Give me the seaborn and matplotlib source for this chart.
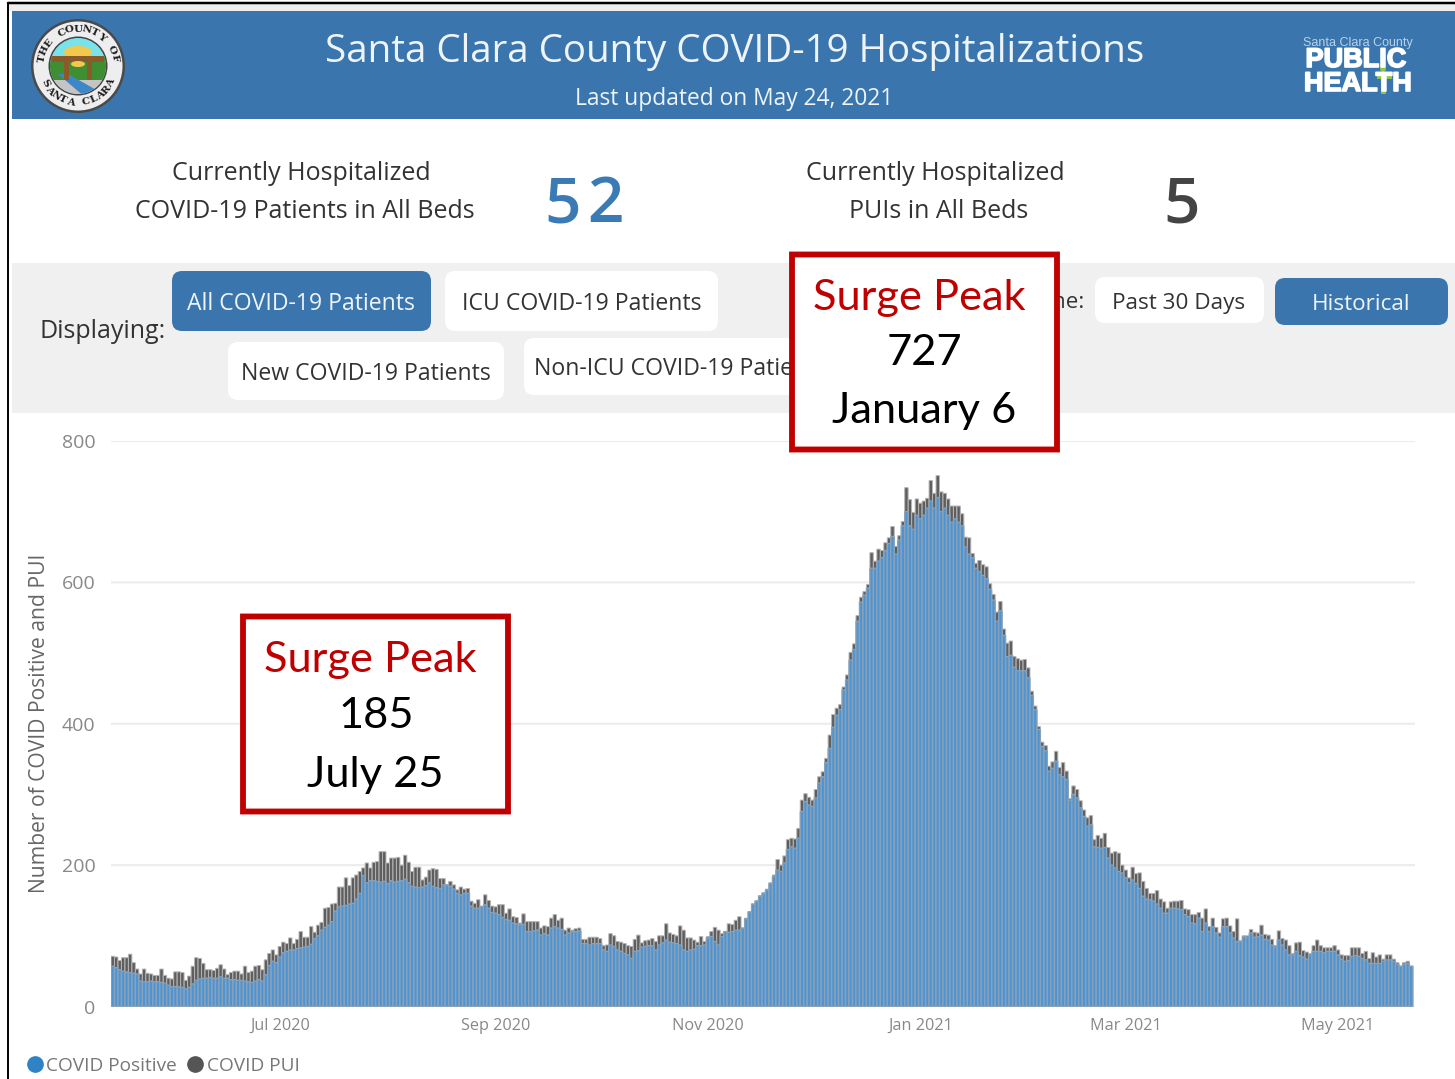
import numpy as np
import pandas as pd
import matplotlib
matplotlib.use("Agg")
import matplotlib.pyplot as plt
import matplotlib.patheffects as pe
import seaborn as sns
from matplotlib.lines import Line2D
from matplotlib.patches import Circle, Ellipse, FancyBboxPatch, Polygon, Rectangle

# daily values, total = positive + PUI
total_beds = [
    71, 70, 65, 69, 69, 74, 62, 53, 46, 53, 47, 46, 44, 44, 53, 44, 40, 39, 49, 49,
    48, 37, 43, 57, 69, 68, 61, 52, 52, 51, 54, 59, 53, 45, 48, 50, 50, 46, 57, 48,
    50, 57, 58, 52, 66, 75, 80, 73, 85, 91, 89, 97, 89, 95, 106, 98, 98, 113, 105, 115,
    119, 139, 140, 145, 146, 169, 169, 182, 171, 182, 186, 191, 196, 203, 196, 204, 205, 219, 219, 203,
    210, 210, 211, 200, 214, 204, 191, 197, 197, 179, 183, 193, 195, 194,
    181, 181, 172, 177, 172, 165, 169, 166, 167, 149, 146, 151, 142, 158, 150, 142, 141, 144, 144, 132,
    138, 127, 126, 118, 131, 120, 120, 120, 120, 111, 114, 113, 125, 130, 122, 125, 108, 111, 108, 110,
    111, 95, 95, 98, 98, 98, 96, 86, 87, 103, 100, 92, 91, 89, 86, 85, 95, 101, 90, 93,
    94, 96, 92, 100, 100, 117, 104, 102, 100, 114, 108, 97, 97, 94, 91, 99, 92, 99, 106, 112,
    108, 103, 106, 117, 116, 122, 127, 111, 125, 134, 145, 150, 157, 161, 166, 175, 186, 208, 200, 213,
    236, 238, 237, 252, 292, 301, 296, 292, 307, 325, 332,
    351, 384, 413, 422, 427, 452, 469, 501, 513, 553, 579, 587, 597, 642, 630, 647, 645, 656, 663, 679,
    651, 666, 686, 734, 717, 699, 718, 712, 715, 719, 744, 726, 751, 728, 726, 718, 708, 708, 708, 697,
    664, 663, 641, 627, 631, 625, 622, 598, 583, 558, 573, 534, 514, 517, 495, 492, 490, 491, 479, 446,
    425, 396, 374, 369,
    340, 346, 361, 338, 345, 333, 294, 312, 307, 291, 278, 267, 270, 236, 242, 238, 245, 225, 217, 219,
    217, 200, 193, 182, 197, 188, 189, 177, 167, 160, 160, 164, 152, 148, 139, 148, 149, 149, 150, 138,
    137, 130, 130, 133, 125, 138, 113, 125, 112, 104, 124, 125, 114, 106, 124, 93, 100, 100, 109, 105,
    104, 115, 102, 101, 95, 86, 107, 96, 94, 86, 75, 90, 91, 79, 77, 75, 86, 94, 86, 83,
    83, 83, 86, 80, 73, 72, 72, 83, 83, 83, 75, 78, 68, 76, 70, 73, 67, 73, 73, 67,
    62, 57, 62, 64, 57,
]
covid_positive = [
    57, 55, 52, 50, 49, 48, 47, 46, 36, 35, 35, 36, 35, 35, 34, 33, 30, 28, 28, 28,
    27, 25, 27, 32, 37, 39, 40, 40, 41, 40, 40, 42, 40, 40, 38, 38, 37, 37, 36, 35,
    34, 36, 38, 36, 45, 58, 64, 62, 70, 76, 78, 80, 80, 82, 83, 84, 85, 88, 96, 100,
    108, 112, 115, 120, 135, 141, 142, 143, 145, 146, 152, 160, 185, 175, 178, 178, 177, 176, 177, 174,
    178, 176, 177, 178, 180, 175, 170, 169, 168, 169, 171, 175, 170, 168,
    167, 172, 172, 170, 166, 160, 158, 160, 160, 142, 139, 139, 141, 144, 139, 133, 132, 130, 126, 123,
    122, 118, 117, 116, 116, 106, 106, 107, 108, 101, 103, 101, 111, 113, 111, 109, 101, 104, 106, 106,
    107, 89, 89, 87, 89, 89, 89, 80, 78, 87, 85, 80, 78, 75, 73, 68, 78, 79, 84, 85,
    86, 86, 80, 87, 90, 94, 91, 90, 89, 87, 80, 78, 80, 81, 86, 86, 87, 97, 99, 92,
    87, 99, 106, 105, 106, 108, 108, 111, 124, 134, 145, 149, 156, 160, 165, 174, 184, 193, 191, 203,
    222, 226, 224, 238, 276, 290, 285, 283, 295, 316, 325,
    345, 365, 395, 412, 420, 448, 462, 490, 505, 545, 572, 582, 592, 620, 620, 630, 635, 645, 655, 665,
    640, 660, 680, 700, 680, 675, 695, 690, 695, 705, 715, 705, 720, 700, 705, 695, 685, 690, 685, 680,
    650, 640, 635, 620, 615, 610, 605, 590, 575, 545, 560, 525, 495, 497, 480, 475, 475, 475, 465, 440,
    420, 392, 368, 362,
    333, 337, 347, 328, 325, 321, 292, 300, 295, 281, 269, 255, 257, 226, 225, 224, 225, 210, 200, 196,
    191, 189, 182, 175, 179, 174, 167, 156, 152, 151, 149, 145, 139, 132, 132, 139, 139, 138, 137, 130,
    127, 118, 117, 125, 106, 118, 106, 113, 104, 98, 113, 113, 104, 97, 92, 92, 99, 98, 104, 98,
    99, 101, 95, 94, 87, 84, 94, 87, 80, 73, 73, 78, 72, 70, 67, 73, 78, 78, 78, 76,
    78, 78, 78, 73, 67, 64, 65, 71, 72, 71, 68, 66, 61, 61, 61, 61, 64, 66, 66, 64,
    60, 57, 60, 61, 57,
]
y_ticks = [0, 200, 400, 600, 800]
x_months = ["2020-07-01", "2020-09-01", "2020-11-01", "2021-01-01", "2021-03-01", "2021-05-01"]
x_labels = ["Jul 2020", "Sep 2020", "Nov 2020", "Jan 2021", "Mar 2021", "May 2021"]

BLUE = "#3a76ad"
BAR_BLUE = "#4f94d2"
BAR_GRAY = "#5e5e5e"
TXT = "#333333"

sns.set_theme(style="white")
plt.rcParams["font.family"] = ["Open Sans", "DejaVu Sans"]
plt.rcParams["path.snap"] = False

df = pd.DataFrame({"positive": covid_positive, "total": total_beds})
df["date"] = pd.date_range("2020-05-14", periods=len(df)).strftime("%Y-%m-%d")

fig = plt.figure(figsize=(14.55, 10.79), dpi=100, facecolor="white")


def pixel_axes(z):
    a = fig.add_axes([0, 0, 1, 1], zorder=z)
    a.set_xlim(0, 1455)
    a.set_ylim(1079, 0)
    a.axis("off")
    a.patch.set_alpha(0)
    return a


ui = pixel_axes(0)
over = pixel_axes(2)


def button(x0, y0, x1, y1, color, r=10):
    ui.add_patch(FancyBboxPatch((x0 + r, y0 + r), x1 - x0 - 2 * r, y1 - y0 - 2 * r,
                                boxstyle=f"round,pad={r},rounding_size={r}", fc=color, ec="none"))


# page frame and header
ui.add_patch(Rectangle((8, 4), 1447, 7, fc="#eeeeee", ec="none"))
ui.add_patch(Rectangle((12, 11), 1443, 108, fc=BLUE, ec="none"))
ui.add_patch(Rectangle((12, 263), 1443, 150, fc="#f0f0f0", ec="none"))
ui.plot([8, 1455], [3, 3], color="black", lw=1.8)
ui.plot([8, 8], [3, 1079], color="black", lw=1.4)

ui.text(735, 52, "Santa Clara County COVID-19 Hospitalizations", color="#eef4fa", fontsize=27.7,
        ha="center", va="center")
ui.text(734, 99, "Last updated on May 24, 2021", color="#eef4fa", fontsize=16.4, ha="center", va="center")

# county seal
seal = Circle((78, 66), 28, fc="#79e2ea", ec="none")
ui.add_patch(Circle((78, 66), 47, fc="#4a4a4a", ec="none"))
ui.add_patch(Circle((78, 66), 44.5, fc="#eeeeee", ec="none"))
ui.add_patch(Circle((78, 66), 29.5, fc="#444444", ec="none"))
ui.add_patch(seal)
for patch in [Ellipse((78, 52), 28, 12, fc="#f2c94c", ec="none"),
              Rectangle((48, 56), 60, 24, fc="#3f8f32", ec="none"),
              Rectangle((48, 80), 60, 18, fc="#c4c4c4", ec="none"),
              Polygon([[58, 74], [68, 74], [100, 92], [86, 98]], fc="#3f86c8", ec="none"),
              Rectangle((52, 56), 52, 6, fc="#8a5a2b", ec="none"),
              Rectangle((64, 58), 5, 22, fc="#8a5a2b", ec="none"),
              Rectangle((87, 58), 5, 22, fc="#8a5a2b", ec="none"),
              Ellipse((78, 64), 14, 6, fc="#f2c94c", ec="none")]:
    ui.add_patch(patch)
    patch.set_clip_path(seal)
for letter, ang in zip("THE COUNTY OF", np.linspace(168, 12, 13)):
    ui.text(78 + 37 * np.cos(np.radians(ang)), 66 - 37 * np.sin(np.radians(ang)), letter, fontsize=7.5,
            family="DejaVu Serif", weight="bold", color="#1c1c1c", rotation=ang - 90, ha="center", va="center")
for letter, ang in zip("SANTA CLARA", np.linspace(208, 332, 11)):
    ui.text(78 + 37 * np.cos(np.radians(ang)), 66 - 37 * np.sin(np.radians(ang)), letter, fontsize=7.5,
            family="DejaVu Serif", weight="bold", color="#1c1c1c", rotation=ang + 90, ha="center", va="center")

# public health logo
heavy = [pe.withStroke(linewidth=1.2, foreground="white")]
ui.text(1358, 43, "Santa Clara County", color="#b9d2e8", fontsize=9, ha="center", va="center",
        family="Liberation Sans")
ui.text(1356, 60, "PUBLIC", color="white", fontsize=19.5, weight="bold", ha="center", va="center",
        family="Liberation Sans", path_effects=heavy)
ui.text(1358, 84, "HEALTH", color="white", fontsize=19.5, weight="bold", ha="center", va="center",
        family="Liberation Sans", path_effects=heavy)
ui.add_patch(Circle((1383, 69), 3, fc="#8cc63f", ec="none"))
ui.add_patch(Rectangle((1377, 74), 15, 5, fc="#8cc63f", ec="none"))
ui.add_patch(Rectangle((1381, 74), 5, 20, fc="#8cc63f", ec="none"))

# headline numbers
ui.text(301, 174, "Currently Hospitalized", color=TXT, fontsize=18, ha="center", va="center")
ui.text(305, 211, "COVID-19 Patients in All Beds", color=TXT, fontsize=18, ha="center", va="center")
ui.text(563, 206, "5", color="#3a7ab5", fontsize=46, weight="semibold", ha="center", va="center")
ui.text(605, 206, "2", color="#3a7ab5", fontsize=46, weight="semibold", ha="center", va="center")
ui.text(935, 174, "Currently Hospitalized", color=TXT, fontsize=18, ha="center", va="center")
ui.text(939, 211, "PUIs in All Beds", color=TXT, fontsize=18, ha="center", va="center")
ui.text(1182, 206, "5", color="#444444", fontsize=46, weight="semibold", ha="center", va="center")

# filter buttons
ui.text(40, 331, "Displaying:", color=TXT, fontsize=18, ha="left", va="center")
button(172, 271, 431, 331, BLUE)
button(445, 271, 718, 331, "white")
button(228, 342, 504, 400, "white")
button(524, 338, 810, 395, "white")
button(1095, 277, 1264, 323, "white")
button(1275, 278, 1448, 325, BLUE)
ui.text(301, 304, "All COVID-19 Patients", color="#eef4fa", fontsize=16.6, ha="center", va="center")
ui.text(582, 304, "ICU COVID-19 Patients", color=TXT, fontsize=16.6, ha="center", va="center")
ui.text(366, 374, "New COVID-19 Patients", color=TXT, fontsize=16.6, ha="center", va="center")
ui.text(534, 369, "Non-ICU COVID-19 Patients", color=TXT, fontsize=16.6, ha="left", va="center")
ui.text(1085, 303, "Timeframe:", color=TXT, fontsize=16.2, ha="right", va="center")
ui.text(1179, 304, "Past 30 Days", color=TXT, fontsize=16.2, ha="center", va="center")
ui.text(1361, 305, "Historical", color="#eef4fa", fontsize=16.2, ha="center", va="center")

# the chart itself
ax = fig.add_axes([111 / 1455, (1079 - 1006.5) / 1079, 1304 / 1455, 565.5 / 1079], zorder=1)
ax.patch.set_alpha(0)
sns.barplot(data=df, x="date", y="total", color=BAR_GRAY, saturation=1, width=0.98,
            edgecolor="#b5b5b5", linewidth=0.7, ax=ax)
sns.barplot(data=df, x="date", y="positive", color=BAR_BLUE, saturation=1, width=0.98,
            edgecolor="#8aa2b8", linewidth=0.95, ax=ax)
sns.despine(ax=ax, left=True, bottom=True)
ax.set_xlim(-0.5, len(df) - 0.5 + 0.6)
ax.set_ylim(0, 800)
ax.set_yticks(y_ticks)
ax.set_xticks([df.index[df["date"] == m][0] for m in x_months])
ax.set_xticklabels(x_labels)
ax.tick_params(axis="y", length=0, labelcolor="#888888", labelsize=14, pad=11)
ax.tick_params(axis="x", length=0, labelcolor="#888888", labelsize=11.7, pad=8)
ax.grid(axis="y", color="#ececec", lw=1.5)
ax.set_axisbelow(True)
ax.set_xlabel("")
ax.set_ylabel("Number of COVID Positive and PUI", color="#666666", fontsize=15.2)
ax.yaxis.set_label_coords(-61 / 1304, 0.5)
handles = [Line2D([], [], marker="o", ls="", color="#2f82c4", ms=11),
           Line2D([], [], marker="o", ls="", color="#555555", ms=11)]
ax.legend(handles, ["COVID Positive", "COVID PUI"], ncol=2, frameon=False, loc="center left",
          bbox_to_anchor=(29.3 / 1455, 13 / 1079), bbox_transform=fig.transFigure, fontsize=13.7,
          labelcolor="#777777", handlelength=0.6, handletextpad=0.3, columnspacing=0.65,
          borderpad=0, borderaxespad=0)

# surge annotations
for x0, y0, lines in [(792, 254.5, [(919, 298, "Surge Peak", "#c00000"), (924, 353, "727", "black"),
                                    (924, 411, "January 6", "black")]),
                      (243, 616.5, [(370, 660, "Surge Peak", "#c00000"), (376, 716, "185", "black"),
                                    (375, 775, "July 25", "black")])]:
    over.add_patch(Rectangle((x0, y0), 265, 195, fc="white", ec="#c00000", lw=4.2))
    for tx, ty, s, c in lines:
        over.text(tx, ty, s, color=c, fontsize=31.2, family="Lato", ha="center", va="center")

plt.savefig("out.png", dpi=100)
